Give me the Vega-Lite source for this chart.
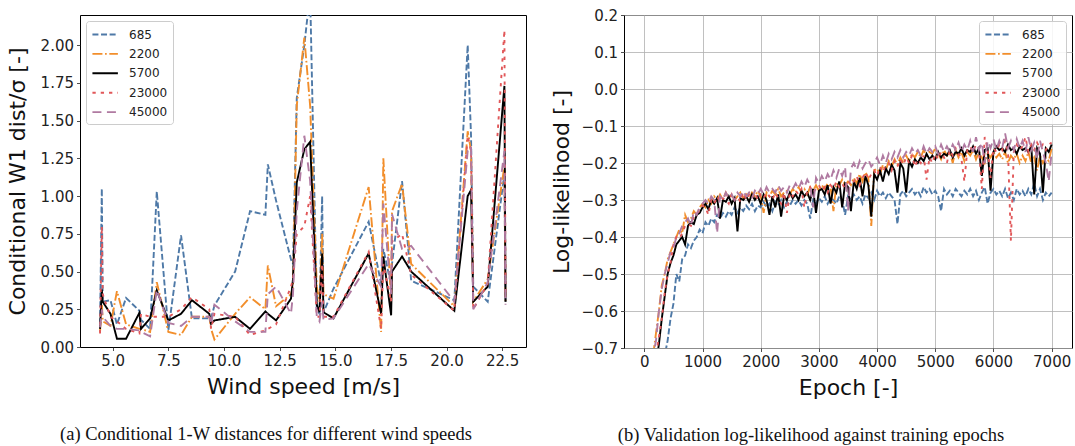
{
  "$schema": "https://vega.github.io/schema/vega-lite/v6.json",
  "background": "white",
  "padding": {"left": 5, "top": 7, "right": 0, "bottom": 0},
  "config": {
    "view": {"stroke": "black", "strokeWidth": 1},
    "font": "DejaVu Sans",
    "axis": {"labelFont": "DejaVu Sans", "labelFontSize": 15, "labelColor": "#222", "titleFont": "DejaVu Sans", "titleFontSize": 22, "titleFontWeight": "normal", "titleColor": "#111", "domain": false, "tickColor": "#222", "tickSize": 3.5, "tickWidth": 0.8, "labelPadding": 3, "grid": false, "labelFlush": false, "labelOverlap": false, "gridColor": "#b0b0b0", "gridWidth": 0.8},
    "legend": {"labelFont": "DejaVu Sans", "labelFontSize": 12, "labelColor": "#222", "symbolType": "M-1,0H2.6", "symbolSize": 200, "labelOffset": 21, "rowPadding": 4.4, "padding": 5, "fillColor": "rgba(255,255,255,0.85)", "strokeColor": "#cccccc", "cornerRadius": 3, "offset": 6},
    "title": {"font": "Liberation Serif", "fontSize": 18.5, "fontWeight": "normal", "color": "#111", "orient": "bottom", "anchor": "middle", "frame": "bounds", "offset": 27},
    "concat": {"spacing": 22}
  },
  "resolve": {"scale": {"color": "independent", "strokeDash": "independent", "strokeWidth": "independent", "x": "independent", "y": "independent"}, "legend": {"color": "independent", "strokeDash": "independent", "strokeWidth": "independent"}},
  "hconcat": [
    {
      "width": 446, "height": 332,
      "title": "(a) Conditional 1-W distances for different wind speeds",
      "data": {"values": [
        {"w": 4.43, "685": 0.15, "2200": 0.10, "5700": 0.12, "23000": 0.09, "45000": 0.13},
        {"w": 4.51, "685": 1.05, "2200": 0.30, "5700": 0.38, "23000": 0.80, "45000": 0.25},
        {"w": 4.55, "685": 0.30, "2200": 0.17, "5700": 0.30, "23000": 0.35, "45000": 0.20},
        {"w": 4.90, "685": 0.31, "2200": 0.14, "5700": 0.22, "23000": 0.20, "45000": 0.14},
        {"w": 5.19, "685": 0.15, "2200": 0.37, "5700": 0.055, "23000": 0.17, "45000": 0.12},
        {"w": 5.60, "685": 0.325, "2200": 0.15, "5700": 0.055, "23000": 0.12, "45000": 0.12},
        {"w": 6.20, "685": 0.24, "2200": 0.12, "5700": 0.227, "23000": 0.09, "45000": 0.11},
        {"w": 6.27, "685": 0.18, "2200": 0.12, "5700": 0.12, "23000": 0.22, "45000": 0.10},
        {"w": 6.68, "685": 0.12, "2200": 0.10, "5700": 0.19, "23000": 0.20, "45000": 0.07},
        {"w": 6.98, "685": 1.03, "2200": 0.43, "5700": 0.375, "23000": 0.20, "45000": 0.38},
        {"w": 7.50, "685": 0.11, "2200": 0.10, "5700": 0.176, "23000": 0.20, "45000": 0.16},
        {"w": 8.07, "685": 0.74, "2200": 0.08, "5700": 0.22, "23000": 0.25, "45000": 0.14},
        {"w": 8.56, "685": 0.19, "2200": 0.20, "5700": 0.31, "23000": 0.33, "45000": 0.20},
        {"w": 9.34, "685": 0.19, "2200": 0.20, "5700": 0.22, "23000": 0.25, "45000": 0.20},
        {"w": 9.42, "685": 0.19, "2200": 0.12, "5700": 0.154, "23000": 0.12, "45000": 0.15},
        {"w": 9.57, "685": 0.275, "2200": 0.05, "5700": 0.176, "23000": 0.22, "45000": 0.28},
        {"w": 10.5, "685": 0.50, "2200": 0.22, "5700": 0.20, "23000": 0.20, "45000": 0.17},
        {"w": 11.17, "685": 0.90, "2200": 0.33, "5700": 0.12, "23000": 0.08, "45000": 0.10},
        {"w": 11.86, "685": 0.876, "2200": 0.25, "5700": 0.236, "23000": 0.11, "45000": 0.10},
        {"w": 11.97, "685": 1.21, "2200": 0.54, "5700": 0.22, "23000": 0.12, "45000": 0.35},
        {"w": 12.34, "685": 0.97, "2200": 0.27, "5700": 0.176, "23000": 0.15, "45000": 0.40},
        {"w": 13.01, "685": 0.58, "2200": 0.35, "5700": 0.32, "23000": 0.40, "45000": 0.22},
        {"w": 13.1, "685": 0.55, "2200": 0.40, "5700": 0.45, "23000": 0.45, "45000": 0.35},
        {"w": 13.27, "685": 1.65, "2200": 1.60, "5700": 1.09, "23000": 0.75, "45000": 0.90},
        {"w": 13.61, "685": 2.0, "2200": 2.05, "5700": 1.31, "23000": 0.80, "45000": 1.40},
        {"w": 13.87, "685": 2.35, "2200": 1.60, "5700": 1.36, "23000": 1.00, "45000": 1.10},
        {"w": 14.17, "685": 0.25, "2200": 0.40, "5700": 0.28, "23000": 0.20, "45000": 0.20},
        {"w": 14.29, "685": 0.22, "2200": 0.30, "5700": 0.23, "23000": 0.20, "45000": 0.17},
        {"w": 14.41, "685": 1.00, "2200": 0.75, "5700": 0.62, "23000": 0.55, "45000": 0.30},
        {"w": 14.47, "685": 0.23, "2200": 0.35, "5700": 0.23, "23000": 0.20, "45000": 0.18},
        {"w": 14.92, "685": 0.386, "2200": 0.32, "5700": 0.19, "23000": 0.20, "45000": 0.19},
        {"w": 16.5, "685": 0.83, "2200": 1.06, "5700": 0.62, "23000": 0.63, "45000": 0.55},
        {"w": 17.06, "685": 0.42, "2200": 0.10, "5700": 0.22, "23000": 0.12, "45000": 0.40},
        {"w": 17.16, "685": 0.65, "2200": 1.25, "5700": 0.60, "23000": 0.55, "45000": 0.95},
        {"w": 17.51, "685": 0.41, "2200": 0.30, "5700": 0.21, "23000": 0.30, "45000": 0.35},
        {"w": 17.55, "685": 0.55, "2200": 0.90, "5700": 0.50, "23000": 0.70, "45000": 0.88},
        {"w": 18.0, "685": 1.10, "2200": 1.08, "5700": 0.60, "23000": 0.75, "45000": 0.65},
        {"w": 18.41, "685": 0.44, "2200": 0.55, "5700": 0.50, "23000": 0.48, "45000": 0.67},
        {"w": 20.35, "685": 0.31, "2200": 0.27, "5700": 0.24, "23000": 0.24, "45000": 0.30},
        {"w": 20.95, "685": 2.0, "2200": 1.43, "5700": 1.00, "23000": 1.40, "45000": 1.30},
        {"w": 21.1, "685": 1.40, "2200": 1.30, "5700": 1.04, "23000": 1.30, "45000": 1.33},
        {"w": 21.2, "685": 0.40, "2200": 0.30, "5700": 0.30, "23000": 0.25, "45000": 0.25},
        {"w": 21.85, "685": 0.30, "2200": 0.45, "5700": 0.40, "23000": 0.42, "45000": 0.43},
        {"w": 22.6, "685": 1.15, "2200": 1.20, "5700": 1.73, "23000": 2.10, "45000": 1.30},
        {"w": 22.65, "685": 0.30, "2200": 0.30, "5700": 0.30, "23000": 0.35, "45000": 0.28}
      ]},
      "transform": [{"fold": ["685", "2200", "5700", "23000", "45000"], "as": ["k", "v"]}],
      "mark": {"type": "line", "clip": true},
      "encoding": {
        "x": {"field": "w", "type": "quantitative", "scale": {"domain": [3.53, 23.57], "nice": false, "zero": false}, "axis": {"values": [5, 7.5, 10, 12.5, 15, 17.5, 20, 22.5], "format": ".1f", "title": "Wind speed [m/s]", "titlePadding": 8}},
        "y": {"field": "v", "type": "quantitative", "scale": {"domain": [0, 2.2], "nice": false, "zero": false}, "axis": {"values": [0, 0.25, 0.5, 0.75, 1, 1.25, 1.5, 1.75, 2], "format": ".2f", "title": "Conditional W1 dist/σ [-]", "titlePadding": 11}},
        "color": {"field": "k", "type": "nominal", "scale": {"domain": ["685", "2200", "5700", "23000", "45000"], "range": ["#4e79a7", "#f28e2b", "#000000", "#e15759", "#b07aa1"]}, "legend": {"title": null, "orient": "top-left"}},
        "strokeDash": {"field": "k", "type": "nominal", "scale": {"domain": ["685", "2200", "5700", "23000", "45000"], "range": [[6, 2.6], [10, 2.6, 1.7, 2.6], [1, 0], [3.3, 5], [9, 5.5]]}, "legend": {"title": null, "orient": "top-left"}},
        "strokeWidth": {"field": "k", "type": "ordinal", "scale": {"domain": ["685", "2200", "5700", "23000", "45000"], "range": [1.9, 1.9, 1.9, 3.4, 1.9]}, "legend": {"title": null, "orient": "top-left"}}
      }
    },
    {
      "width": 448, "height": 333,
      "title": "(b) Validation log-likelihood against training epochs",
      "data": {"values": [
        {"e": 0, "685": -1.1, "2200": -0.9, "5700": -0.98, "23000": -0.96, "45000": -0.85},
        {"e": 50, "685": -1.05, "2200": -0.84, "5700": -0.92, "23000": -0.9, "45000": -0.8},
        {"e": 100, "685": -1.0, "2200": -0.78, "5700": -0.86, "23000": -0.84, "45000": -0.76},
        {"e": 150, "685": -0.95, "2200": -0.72, "5700": -0.8, "23000": -0.78, "45000": -0.72},
        {"e": 200, "685": -0.9, "2200": -0.66, "5700": -0.74, "23000": -0.72, "45000": -0.68},
        {"e": 250, "685": -0.84, "2200": -0.6, "5700": -0.69, "23000": -0.67, "45000": -0.6},
        {"e": 300, "685": -0.78, "2200": -0.53, "5700": -0.62, "23000": -0.62, "45000": -0.54},
        {"e": 350, "685": -0.72, "2200": -0.5, "5700": -0.56, "23000": -0.55, "45000": -0.5},
        {"e": 400, "685": -0.68, "2200": -0.46, "5700": -0.5, "23000": -0.5, "45000": -0.47},
        {"e": 450, "685": -0.62, "2200": -0.44, "5700": -0.47, "23000": -0.47, "45000": -0.44},
        {"e": 500, "685": -0.58, "2200": -0.42, "5700": -0.45, "23000": -0.42, "45000": -0.43},
        {"e": 550, "685": -0.5, "2200": -0.4, "5700": -0.42, "23000": -0.4, "45000": -0.4},
        {"e": 600, "685": -0.52, "2200": -0.38, "5700": -0.41, "23000": -0.405, "45000": -0.39},
        {"e": 650, "685": -0.46, "2200": -0.39, "5700": -0.4, "23000": -0.39, "45000": -0.37},
        {"e": 700, "685": -0.45, "2200": -0.34, "5700": -0.42, "23000": -0.37, "45000": -0.36},
        {"e": 750, "685": -0.42, "2200": -0.36, "5700": -0.37, "23000": -0.365, "45000": -0.35},
        {"e": 800, "685": -0.43, "2200": -0.35, "5700": -0.36, "23000": -0.37, "45000": -0.37},
        {"e": 850, "685": -0.41, "2200": -0.33, "5700": -0.365, "23000": -0.345, "45000": -0.33},
        {"e": 900, "685": -0.4, "2200": -0.34, "5700": -0.34, "23000": -0.335, "45000": -0.34},
        {"e": 950, "685": -0.38, "2200": -0.32, "5700": -0.335, "23000": -0.33, "45000": -0.32},
        {"e": 1000, "685": -0.39, "2200": -0.31, "5700": -0.32, "23000": -0.315, "45000": -0.31},
        {"e": 1050, "685": -0.36, "2200": -0.32, "5700": -0.31, "23000": -0.32, "45000": -0.3},
        {"e": 1100, "685": -0.37, "2200": -0.3, "5700": -0.325, "23000": -0.34, "45000": -0.31},
        {"e": 1150, "685": -0.35, "2200": -0.31, "5700": -0.3, "23000": -0.3, "45000": -0.29},
        {"e": 1200, "685": -0.36, "2200": -0.29, "5700": -0.31, "23000": -0.31, "45000": -0.3},
        {"e": 1250, "685": -0.34, "2200": -0.3, "5700": -0.295, "23000": -0.29, "45000": -0.39},
        {"e": 1300, "685": -0.35, "2200": -0.285, "5700": -0.35, "23000": -0.305, "45000": -0.29},
        {"e": 1350, "685": -0.335, "2200": -0.3, "5700": -0.3, "23000": -0.295, "45000": -0.3},
        {"e": 1400, "685": -0.345, "2200": -0.28, "5700": -0.305, "23000": -0.3, "45000": -0.28},
        {"e": 1450, "685": -0.33, "2200": -0.295, "5700": -0.29, "23000": -0.31, "45000": -0.295},
        {"e": 1500, "685": -0.34, "2200": -0.285, "5700": -0.31, "23000": -0.285, "45000": -0.285},
        {"e": 1550, "685": -0.32, "2200": -0.3, "5700": -0.295, "23000": -0.3, "45000": -0.3},
        {"e": 1600, "685": -0.335, "2200": -0.29, "5700": -0.385, "23000": -0.29, "45000": -0.28},
        {"e": 1650, "685": -0.32, "2200": -0.28, "5700": -0.295, "23000": -0.305, "45000": -0.29},
        {"e": 1700, "685": -0.33, "2200": -0.295, "5700": -0.3, "23000": -0.28, "45000": -0.275},
        {"e": 1750, "685": -0.315, "2200": -0.285, "5700": -0.29, "23000": -0.3, "45000": -0.29},
        {"e": 1800, "685": -0.325, "2200": -0.3, "5700": -0.305, "23000": -0.285, "45000": -0.28},
        {"e": 1850, "685": -0.31, "2200": -0.28, "5700": -0.285, "23000": -0.295, "45000": -0.295},
        {"e": 1900, "685": -0.33, "2200": -0.29, "5700": -0.3, "23000": -0.28, "45000": -0.275},
        {"e": 1950, "685": -0.315, "2200": -0.275, "5700": -0.29, "23000": -0.3, "45000": -0.285},
        {"e": 2000, "685": -0.32, "2200": -0.29, "5700": -0.31, "23000": -0.285, "45000": -0.27},
        {"e": 2050, "685": -0.305, "2200": -0.335, "5700": -0.285, "23000": -0.295, "45000": -0.285},
        {"e": 2100, "685": -0.32, "2200": -0.28, "5700": -0.3, "23000": -0.28, "45000": -0.265},
        {"e": 2150, "685": -0.31, "2200": -0.29, "5700": -0.34, "23000": -0.29, "45000": -0.28},
        {"e": 2200, "685": -0.33, "2200": -0.275, "5700": -0.29, "23000": -0.3, "45000": -0.27},
        {"e": 2250, "685": -0.305, "2200": -0.285, "5700": -0.32, "23000": -0.28, "45000": -0.28},
        {"e": 2300, "685": -0.315, "2200": -0.27, "5700": -0.285, "23000": -0.295, "45000": -0.26},
        {"e": 2350, "685": -0.3, "2200": -0.29, "5700": -0.345, "23000": -0.31, "45000": -0.275},
        {"e": 2400, "685": -0.32, "2200": -0.28, "5700": -0.29, "23000": -0.28, "45000": -0.265},
        {"e": 2450, "685": -0.305, "2200": -0.275, "5700": -0.3, "23000": -0.335, "45000": -0.28},
        {"e": 2500, "685": -0.315, "2200": -0.285, "5700": -0.28, "23000": -0.28, "45000": -0.26},
        {"e": 2550, "685": -0.3, "2200": -0.27, "5700": -0.295, "23000": -0.29, "45000": -0.27},
        {"e": 2600, "685": -0.31, "2200": -0.28, "5700": -0.285, "23000": -0.275, "45000": -0.255},
        {"e": 2650, "685": -0.3, "2200": -0.265, "5700": -0.3, "23000": -0.285, "45000": -0.27},
        {"e": 2700, "685": -0.315, "2200": -0.28, "5700": -0.275, "23000": -0.27, "45000": -0.25},
        {"e": 2750, "685": -0.3, "2200": -0.27, "5700": -0.29, "23000": -0.32, "45000": -0.265},
        {"e": 2800, "685": -0.31, "2200": -0.285, "5700": -0.28, "23000": -0.275, "45000": -0.245},
        {"e": 2850, "685": -0.35, "2200": -0.265, "5700": -0.3, "23000": -0.265, "45000": -0.26},
        {"e": 2900, "685": -0.3, "2200": -0.275, "5700": -0.27, "23000": -0.28, "45000": -0.32},
        {"e": 2950, "685": -0.31, "2200": -0.26, "5700": -0.335, "23000": -0.27, "45000": -0.24},
        {"e": 3000, "685": -0.295, "2200": -0.275, "5700": -0.275, "23000": -0.26, "45000": -0.255},
        {"e": 3050, "685": -0.305, "2200": -0.26, "5700": -0.27, "23000": -0.275, "45000": -0.235},
        {"e": 3100, "685": -0.29, "2200": -0.27, "5700": -0.285, "23000": -0.265, "45000": -0.25},
        {"e": 3150, "685": -0.31, "2200": -0.255, "5700": -0.26, "23000": -0.28, "45000": -0.23},
        {"e": 3200, "685": -0.295, "2200": -0.265, "5700": -0.31, "23000": -0.26, "45000": -0.245},
        {"e": 3250, "685": -0.3, "2200": -0.33, "5700": -0.265, "23000": -0.27, "45000": -0.22},
        {"e": 3300, "685": -0.31, "2200": -0.255, "5700": -0.28, "23000": -0.25, "45000": -0.24},
        {"e": 3350, "685": -0.29, "2200": -0.26, "5700": -0.25, "23000": -0.265, "45000": -0.215},
        {"e": 3400, "685": -0.3, "2200": -0.245, "5700": -0.32, "23000": -0.255, "45000": -0.235},
        {"e": 3450, "685": -0.34, "2200": -0.26, "5700": -0.255, "23000": -0.27, "45000": -0.21},
        {"e": 3500, "685": -0.29, "2200": -0.25, "5700": -0.265, "23000": -0.245, "45000": -0.33},
        {"e": 3550, "685": -0.3, "2200": -0.26, "5700": -0.33, "23000": -0.26, "45000": -0.215},
        {"e": 3600, "685": -0.285, "2200": -0.24, "5700": -0.25, "23000": -0.25, "45000": -0.2},
        {"e": 3650, "685": -0.3, "2200": -0.255, "5700": -0.27, "23000": -0.235, "45000": -0.22},
        {"e": 3700, "685": -0.29, "2200": -0.23, "5700": -0.24, "23000": -0.26, "45000": -0.195},
        {"e": 3750, "685": -0.31, "2200": -0.25, "5700": -0.29, "23000": -0.24, "45000": -0.215},
        {"e": 3800, "685": -0.285, "2200": -0.225, "5700": -0.235, "23000": -0.225, "45000": -0.2},
        {"e": 3850, "685": -0.295, "2200": -0.24, "5700": -0.26, "23000": -0.245, "45000": -0.19},
        {"e": 3900, "685": -0.28, "2200": -0.37, "5700": -0.345, "23000": -0.23, "45000": -0.21},
        {"e": 3950, "685": -0.3, "2200": -0.22, "5700": -0.23, "23000": -0.22, "45000": -0.2},
        {"e": 4000, "685": -0.275, "2200": -0.215, "5700": -0.245, "23000": -0.235, "45000": -0.185},
        {"e": 4050, "685": -0.29, "2200": -0.23, "5700": -0.22, "23000": -0.21, "45000": -0.205},
        {"e": 4100, "685": -0.28, "2200": -0.205, "5700": -0.25, "23000": -0.225, "45000": -0.18},
        {"e": 4150, "685": -0.295, "2200": -0.22, "5700": -0.215, "23000": -0.205, "45000": -0.2},
        {"e": 4200, "685": -0.28, "2200": -0.195, "5700": -0.23, "23000": -0.2, "45000": -0.175},
        {"e": 4250, "685": -0.29, "2200": -0.21, "5700": -0.205, "23000": -0.22, "45000": -0.19},
        {"e": 4300, "685": -0.3, "2200": -0.19, "5700": -0.22, "23000": -0.195, "45000": -0.17},
        {"e": 4350, "685": -0.365, "2200": -0.205, "5700": -0.28, "23000": -0.21, "45000": -0.185},
        {"e": 4400, "685": -0.285, "2200": -0.185, "5700": -0.2, "23000": -0.19, "45000": -0.165},
        {"e": 4450, "685": -0.275, "2200": -0.2, "5700": -0.215, "23000": -0.205, "45000": -0.185},
        {"e": 4500, "685": -0.29, "2200": -0.18, "5700": -0.28, "23000": -0.185, "45000": -0.17},
        {"e": 4550, "685": -0.28, "2200": -0.195, "5700": -0.195, "23000": -0.2, "45000": -0.18},
        {"e": 4600, "685": -0.27, "2200": -0.175, "5700": -0.21, "23000": -0.18, "45000": -0.16},
        {"e": 4650, "685": -0.285, "2200": -0.185, "5700": -0.19, "23000": -0.21, "45000": -0.175},
        {"e": 4700, "685": -0.275, "2200": -0.17, "5700": -0.2, "23000": -0.19, "45000": -0.165},
        {"e": 4750, "685": -0.29, "2200": -0.185, "5700": -0.185, "23000": -0.2, "45000": -0.18},
        {"e": 4800, "685": -0.265, "2200": -0.165, "5700": -0.195, "23000": -0.18, "45000": -0.155},
        {"e": 4850, "685": -0.28, "2200": -0.18, "5700": -0.175, "23000": -0.245, "45000": -0.175},
        {"e": 4900, "685": -0.27, "2200": -0.17, "5700": -0.19, "23000": -0.185, "45000": -0.16},
        {"e": 4950, "685": -0.285, "2200": -0.175, "5700": -0.18, "23000": -0.2, "45000": -0.17},
        {"e": 5000, "685": -0.275, "2200": -0.16, "5700": -0.19, "23000": -0.175, "45000": -0.155},
        {"e": 5050, "685": -0.29, "2200": -0.175, "5700": -0.17, "23000": -0.19, "45000": -0.175},
        {"e": 5100, "685": -0.33, "2200": -0.19, "5700": -0.185, "23000": -0.17, "45000": -0.15},
        {"e": 5150, "685": -0.27, "2200": -0.165, "5700": -0.175, "23000": -0.185, "45000": -0.17},
        {"e": 5200, "685": -0.285, "2200": -0.18, "5700": -0.18, "23000": -0.2, "45000": -0.155},
        {"e": 5250, "685": -0.275, "2200": -0.17, "5700": -0.165, "23000": -0.165, "45000": -0.17},
        {"e": 5300, "685": -0.29, "2200": -0.2, "5700": -0.185, "23000": -0.18, "45000": -0.15},
        {"e": 5350, "685": -0.27, "2200": -0.165, "5700": -0.17, "23000": -0.16, "45000": -0.165},
        {"e": 5400, "685": -0.28, "2200": -0.185, "5700": -0.175, "23000": -0.175, "45000": -0.145},
        {"e": 5450, "685": -0.29, "2200": -0.17, "5700": -0.16, "23000": -0.19, "45000": -0.17},
        {"e": 5500, "685": -0.275, "2200": -0.195, "5700": -0.18, "23000": -0.25, "45000": -0.15},
        {"e": 5550, "685": -0.285, "2200": -0.17, "5700": -0.165, "23000": -0.165, "45000": -0.165},
        {"e": 5600, "685": -0.27, "2200": -0.18, "5700": -0.17, "23000": -0.155, "45000": -0.14},
        {"e": 5650, "685": -0.29, "2200": -0.165, "5700": -0.155, "23000": -0.17, "45000": -0.17},
        {"e": 5700, "685": -0.275, "2200": -0.19, "5700": -0.175, "23000": -0.15, "45000": -0.13},
        {"e": 5750, "685": -0.3, "2200": -0.17, "5700": -0.16, "23000": -0.16, "45000": -0.165},
        {"e": 5800, "685": -0.28, "2200": -0.185, "5700": -0.235, "23000": -0.27, "45000": -0.145},
        {"e": 5850, "685": -0.265, "2200": -0.2, "5700": -0.165, "23000": -0.13, "45000": -0.2},
        {"e": 5900, "685": -0.31, "2200": -0.175, "5700": -0.16, "23000": -0.16, "45000": -0.14},
        {"e": 5950, "685": -0.28, "2200": -0.185, "5700": -0.275, "23000": -0.24, "45000": -0.16},
        {"e": 6000, "685": -0.27, "2200": -0.17, "5700": -0.17, "23000": -0.16, "45000": -0.135},
        {"e": 6050, "685": -0.285, "2200": -0.185, "5700": -0.155, "23000": -0.17, "45000": -0.165},
        {"e": 6100, "685": -0.275, "2200": -0.175, "5700": -0.165, "23000": -0.15, "45000": -0.14},
        {"e": 6150, "685": -0.29, "2200": -0.19, "5700": -0.16, "23000": -0.165, "45000": -0.16},
        {"e": 6200, "685": -0.27, "2200": -0.17, "5700": -0.17, "23000": -0.14, "45000": -0.12},
        {"e": 6250, "685": -0.295, "2200": -0.2, "5700": -0.15, "23000": -0.17, "45000": -0.16},
        {"e": 6300, "685": -0.28, "2200": -0.18, "5700": -0.165, "23000": -0.41, "45000": -0.14},
        {"e": 6350, "685": -0.3, "2200": -0.19, "5700": -0.16, "23000": -0.17, "45000": -0.165},
        {"e": 6400, "685": -0.27, "2200": -0.175, "5700": -0.175, "23000": -0.15, "45000": -0.135},
        {"e": 6450, "685": -0.285, "2200": -0.2, "5700": -0.155, "23000": -0.165, "45000": -0.16},
        {"e": 6500, "685": -0.275, "2200": -0.18, "5700": -0.165, "23000": -0.155, "45000": -0.14},
        {"e": 6550, "685": -0.29, "2200": -0.195, "5700": -0.16, "23000": -0.13, "45000": -0.17},
        {"e": 6600, "685": -0.27, "2200": -0.17, "5700": -0.17, "23000": -0.17, "45000": -0.13},
        {"e": 6650, "685": -0.285, "2200": -0.2, "5700": -0.155, "23000": -0.15, "45000": -0.165},
        {"e": 6700, "685": -0.255, "2200": -0.185, "5700": -0.285, "23000": -0.165, "45000": -0.145},
        {"e": 6750, "685": -0.29, "2200": -0.22, "5700": -0.16, "23000": -0.145, "45000": -0.19},
        {"e": 6800, "685": -0.27, "2200": -0.18, "5700": -0.175, "23000": -0.16, "45000": -0.14},
        {"e": 6850, "685": -0.3, "2200": -0.2, "5700": -0.28, "23000": -0.15, "45000": -0.17},
        {"e": 6900, "685": -0.28, "2200": -0.185, "5700": -0.16, "23000": -0.165, "45000": -0.2},
        {"e": 6950, "685": -0.29, "2200": -0.195, "5700": -0.17, "23000": -0.15, "45000": -0.25},
        {"e": 7000, "685": -0.28, "2200": -0.16, "5700": -0.15, "23000": -0.145, "45000": -0.17}
      ]},
      "transform": [{"fold": ["685", "2200", "5700", "23000", "45000"], "as": ["k", "v"]}],
      "mark": {"type": "line", "clip": true},
      "encoding": {
        "x": {"field": "e", "type": "quantitative", "scale": {"domain": [-350, 7350], "nice": false, "zero": false}, "axis": {"values": [0, 1000, 2000, 3000, 4000, 5000, 6000, 7000], "format": "d", "title": "Epoch [-]", "titlePadding": 8, "grid": true}},
        "y": {"field": "v", "type": "quantitative", "scale": {"domain": [-0.7, 0.2], "nice": false, "zero": false}, "axis": {"values": [-0.7, -0.6, -0.5, -0.4, -0.3, -0.2, -0.1, 0, 0.1, 0.2], "format": ".1f", "title": "Log-likelihood [-]", "titlePadding": 8, "grid": true}},
        "color": {"field": "k", "type": "nominal", "scale": {"domain": ["685", "2200", "5700", "23000", "45000"], "range": ["#4e79a7", "#f28e2b", "#000000", "#e15759", "#b07aa1"]}, "legend": {"title": null, "orient": "top-right"}},
        "strokeDash": {"field": "k", "type": "nominal", "scale": {"domain": ["685", "2200", "5700", "23000", "45000"], "range": [[6, 2.6], [10, 2.6, 1.7, 2.6], [1, 0], [3.3, 5], [9, 5.5]]}, "legend": {"title": null, "orient": "top-right"}},
        "strokeWidth": {"field": "k", "type": "ordinal", "scale": {"domain": ["685", "2200", "5700", "23000", "45000"], "range": [1.9, 1.9, 1.9, 3.4, 1.9]}, "legend": {"title": null, "orient": "top-right"}}
      }
    }
  ]
}
